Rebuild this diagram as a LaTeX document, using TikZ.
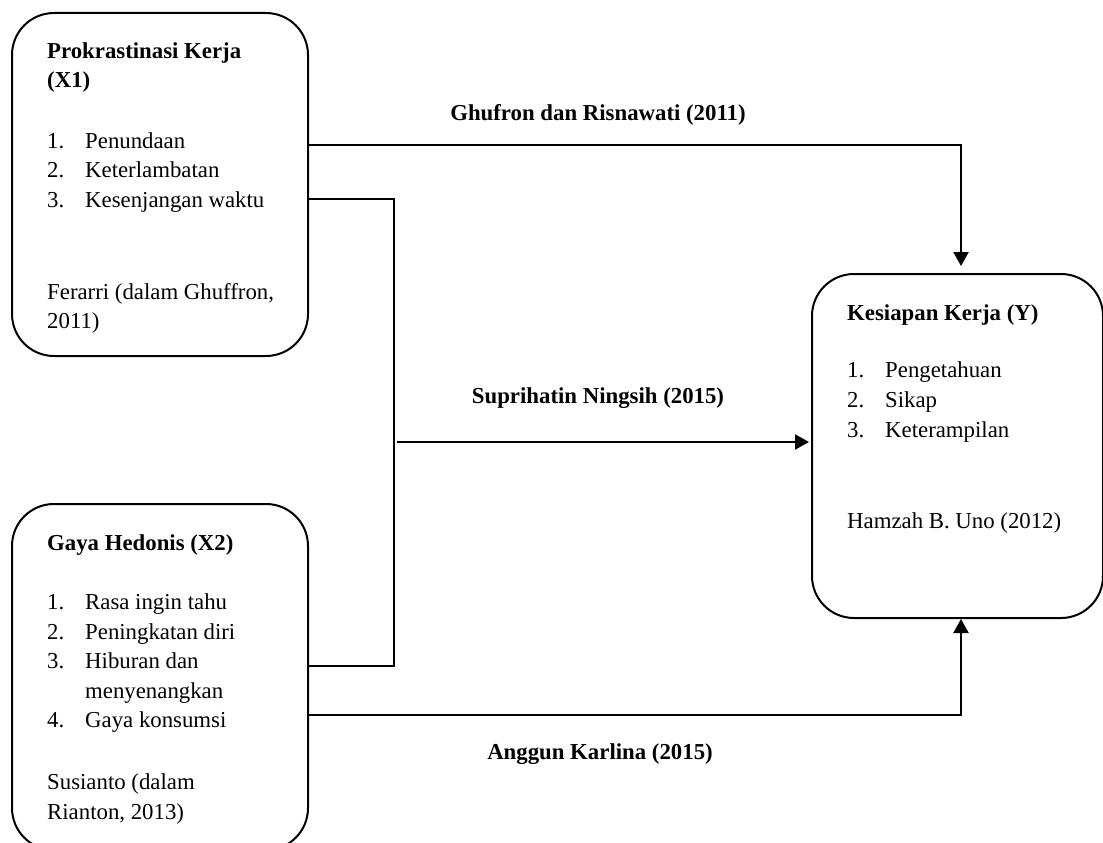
\documentclass[tikz,border=0pt]{standalone}
\usepackage{fontspec}
\setmainfont{Liberation Serif}
\usetikzlibrary{arrows.meta}
\begin{document}
\begin{tikzpicture}[x=1pt,y=-1pt,
  box/.style={draw, line width=2pt, rounded corners=42pt, anchor=north west, inner sep=0pt},
  conn/.style={line width=2.2pt},
  arr/.style={conn, -{Triangle[width=15pt,length=14pt]}},
  txt/.style={anchor=base west, inner sep=0pt, font=\fontsize{22.8}{30}\selectfont},
  bold/.style={txt, font=\fontsize{22.8}{30}\selectfont\bfseries},
  lbl/.style={anchor=base, inner sep=0pt, font=\fontsize{22.8}{30}\selectfont\bfseries}]
\useasboundingbox (0,0) rectangle (1103,843);
\clip (0,0) rectangle (1103,843);
% boxes
\node[box, minimum width=296pt, minimum height=343pt] (x1) at (11,12) {};
\node[box, minimum width=296pt, minimum height=346pt] (x2) at (11,503) {};
\node[box, minimum width=291pt, minimum height=344pt] (y) at (811,273) {};
% X1 text
\node[bold] (x1t1) at (47,59) {Prokrastinasi Kerja};
\node[bold] (x1t2) at (47,88) {(X1)};
\node[txt] (x1n1) at (47,148) {1.};
\node[txt] (x1i1) at (85,148) {Penundaan};
\node[txt] (x1n2) at (47,177) {2.};
\node[txt] (x1i2) at (85,177) {Keterlambatan};
\node[txt] (x1n3) at (47,207) {3.};
\node[txt] (x1i3) at (85,207) {Kesenjangan waktu};
\node[txt] (x1s1) at (47,299) {Ferarri (dalam Ghuffron,};
\node[txt] (x1s2) at (47,328) {2011)};
% X2 text
\node[bold] (x2t1) at (47,550) {Gaya Hedonis (X2)};
\node[txt] (x2n1) at (47,609) {1.};
\node[txt] (x2i1) at (85,609) {Rasa ingin tahu};
\node[txt] (x2n2) at (47,639) {2.};
\node[txt] (x2i2) at (85,639) {Peningkatan diri};
\node[txt] (x2n3) at (47,668) {3.};
\node[txt] (x2i3) at (85,668) {Hiburan dan};
\node[txt] (x2i3b) at (85,698) {menyenangkan};
\node[txt] (x2n4) at (47,727) {4.};
\node[txt] (x2i4) at (85,727) {Gaya konsumsi};
\node[txt] (x2s1) at (47,789) {Susianto (dalam};
\node[txt] (x2s2) at (47,819) {Rianton, 2013)};
% Y text
\node[bold] (yt1) at (847,320) {Kesiapan Kerja (Y)};
\node[txt] (yn1) at (847,377) {1.};
\node[txt] (yi1) at (885,377) {Pengetahuan};
\node[txt] (yn2) at (847,407) {2.};
\node[txt] (yi2) at (885,407) {Sikap};
\node[txt] (yn3) at (847,437) {3.};
\node[txt] (yi3) at (885,437) {Keterampilan};
\node[txt] (ys1) at (847,528) {Hamzah B. Uno (2012)};
% labels
\node[lbl] (l1) at (598,120) {Ghufron dan Risnawati (2011)};
\node[lbl] (l2) at (598,403) {Suprihatin Ningsih (2015)};
\node[lbl] (l3) at (600,759) {Anggun Karlina (2015)};
% connectors
\coordinate (a) at (961,145);
\draw[arr, shorten >=7pt] (x1.east |- a) -- (a) -- (a |- y.north);
\coordinate (b1) at (394,199);
\coordinate (b2) at (394,666);
\draw[conn] (x1.east |- b1) -- (b1) -- (b2) -- (x2.east |- b2);
\coordinate (m) at (397,442);
\draw[arr, shorten >=2pt] (m) -- (y.west |- m);
\coordinate (c) at (961,715);
\draw[arr] (x2.east |- c) -- (c) -- (c |- y.south);
\end{tikzpicture}
\end{document}
